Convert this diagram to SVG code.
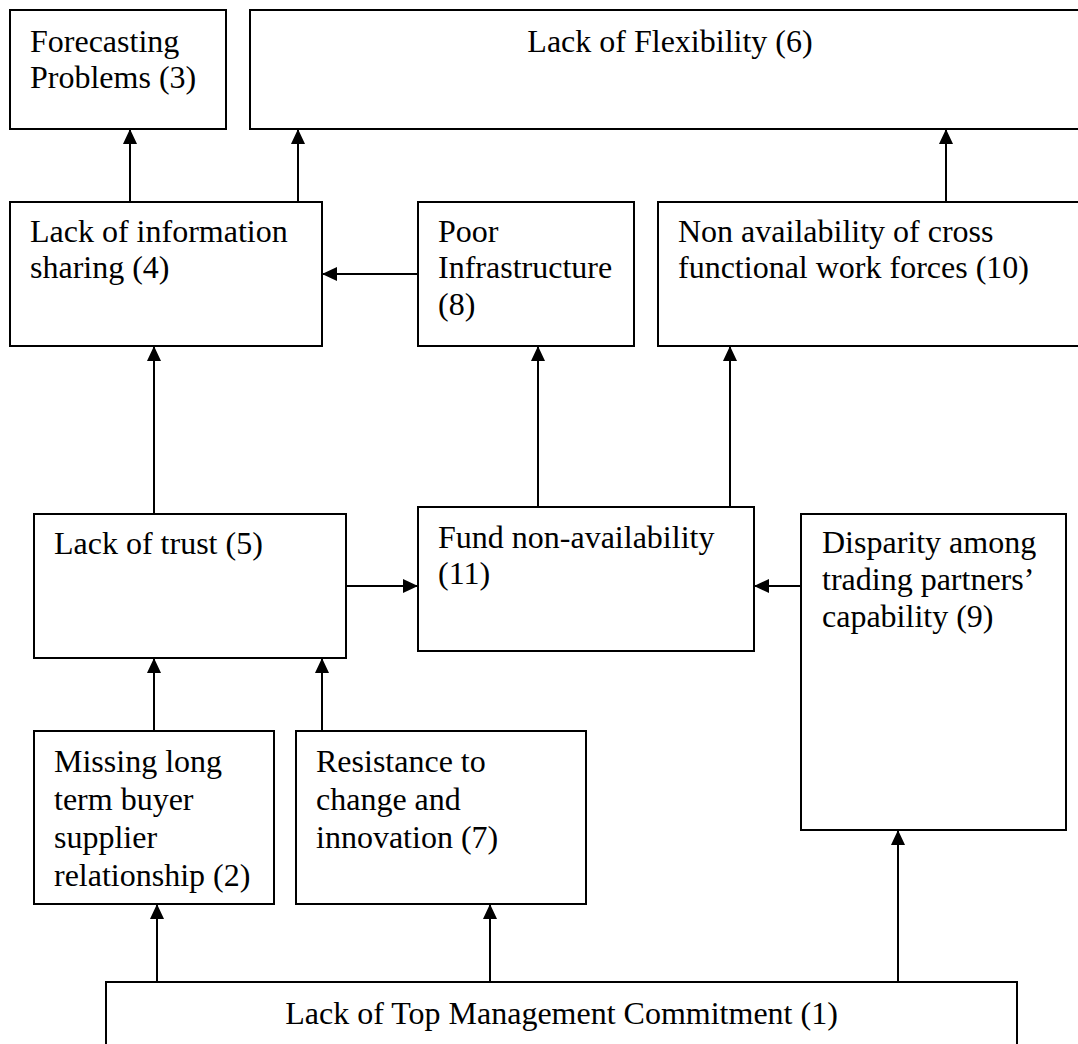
<svg xmlns="http://www.w3.org/2000/svg" width="1078" height="1044" viewBox="0 0 1078 1044">
<style>
.box{fill:#fff;stroke:#000;stroke-width:2}
.lbl{font-family:"Liberation Serif","Times New Roman",serif;font-size:32px;fill:#000}
.edge{fill:none;stroke:#000;stroke-width:2;marker-end:url(#ah)}
</style>
<defs>
<marker id="ah" markerUnits="userSpaceOnUse" markerWidth="16" markerHeight="14" refX="15" refY="7" orient="auto">
<path d="M0,0 L15,7 L0,14 z" fill="#000"/>
</marker>
</defs>
<rect width="1078" height="1044" fill="#fff"/>
<g id="connectors">
<path class="edge" d="M130,202 V129"/>
<path class="edge" d="M298,202 V129"/>
<path class="edge" d="M946,202 V129"/>
<path class="edge" d="M418,274 H322"/>
<path class="edge" d="M154,514 V346"/>
<path class="edge" d="M538,507 V346"/>
<path class="edge" d="M730,507 V346"/>
<path class="edge" d="M346,586 H418"/>
<path class="edge" d="M801,586 H754"/>
<path class="edge" d="M154,731 V658"/>
<path class="edge" d="M322,731 V658"/>
<path class="edge" d="M157,982 V904"/>
<path class="edge" d="M490,982 V904"/>
<path class="edge" d="M898,982 V830"/>
</g>
<g id="n3"><rect class="box" x="10" y="10" width="216" height="119"/><text class="lbl" x="30" y="52">Forecasting<tspan x="30" y="88">Problems (3)</tspan></text></g>
<g id="n6"><rect class="box" x="250" y="10" width="840" height="119"/><text class="lbl" x="670" y="52" text-anchor="middle">Lack of Flexibility (6)</text></g>
<g id="n4"><rect class="box" x="10" y="202" width="312" height="144"/><text class="lbl" x="30" y="242">Lack of information<tspan x="30" y="278">sharing (4)</tspan></text></g>
<g id="n8"><rect class="box" x="418" y="202" width="216" height="144"/><text class="lbl" x="438" y="242">Poor<tspan x="438" y="278">Infrastructure</tspan><tspan x="438" y="315">(8)</tspan></text></g>
<g id="n10"><rect class="box" x="658" y="202" width="432" height="144"/><text class="lbl" x="678" y="242">Non availability of cross<tspan x="678" y="278">functional work forces (10)</tspan></text></g>
<g id="n5"><rect class="box" x="34" y="514" width="312" height="144"/><text class="lbl" x="54" y="554">Lack of trust (5)</text></g>
<g id="n11"><rect class="box" x="418" y="507" width="336" height="144"/><text class="lbl" x="438" y="548">Fund non-availability<tspan x="438" y="584">(11)</tspan></text></g>
<g id="n9"><rect class="box" x="801" y="514" width="265" height="316"/><text class="lbl" x="822" y="553">Disparity among<tspan x="822" y="590">trading partners’</tspan><tspan x="822" y="627">capability (9)</tspan></text></g>
<g id="n2"><rect class="box" x="34" y="731" width="240" height="173"/><text class="lbl" x="54" y="772">Missing long<tspan x="54" y="810">term buyer</tspan><tspan x="54" y="848">supplier</tspan><tspan x="54" y="886">relationship (2)</tspan></text></g>
<g id="n7"><rect class="box" x="296" y="731" width="290" height="173"/><text class="lbl" x="316" y="772">Resistance to<tspan x="316" y="810">change and</tspan><tspan x="316" y="848">innovation (7)</tspan></text></g>
<g id="n1"><rect class="box" x="106" y="982" width="911" height="100"/><text class="lbl" x="561.5" y="1024" text-anchor="middle">Lack of Top Management Commitment (1)</text></g>
</svg>
